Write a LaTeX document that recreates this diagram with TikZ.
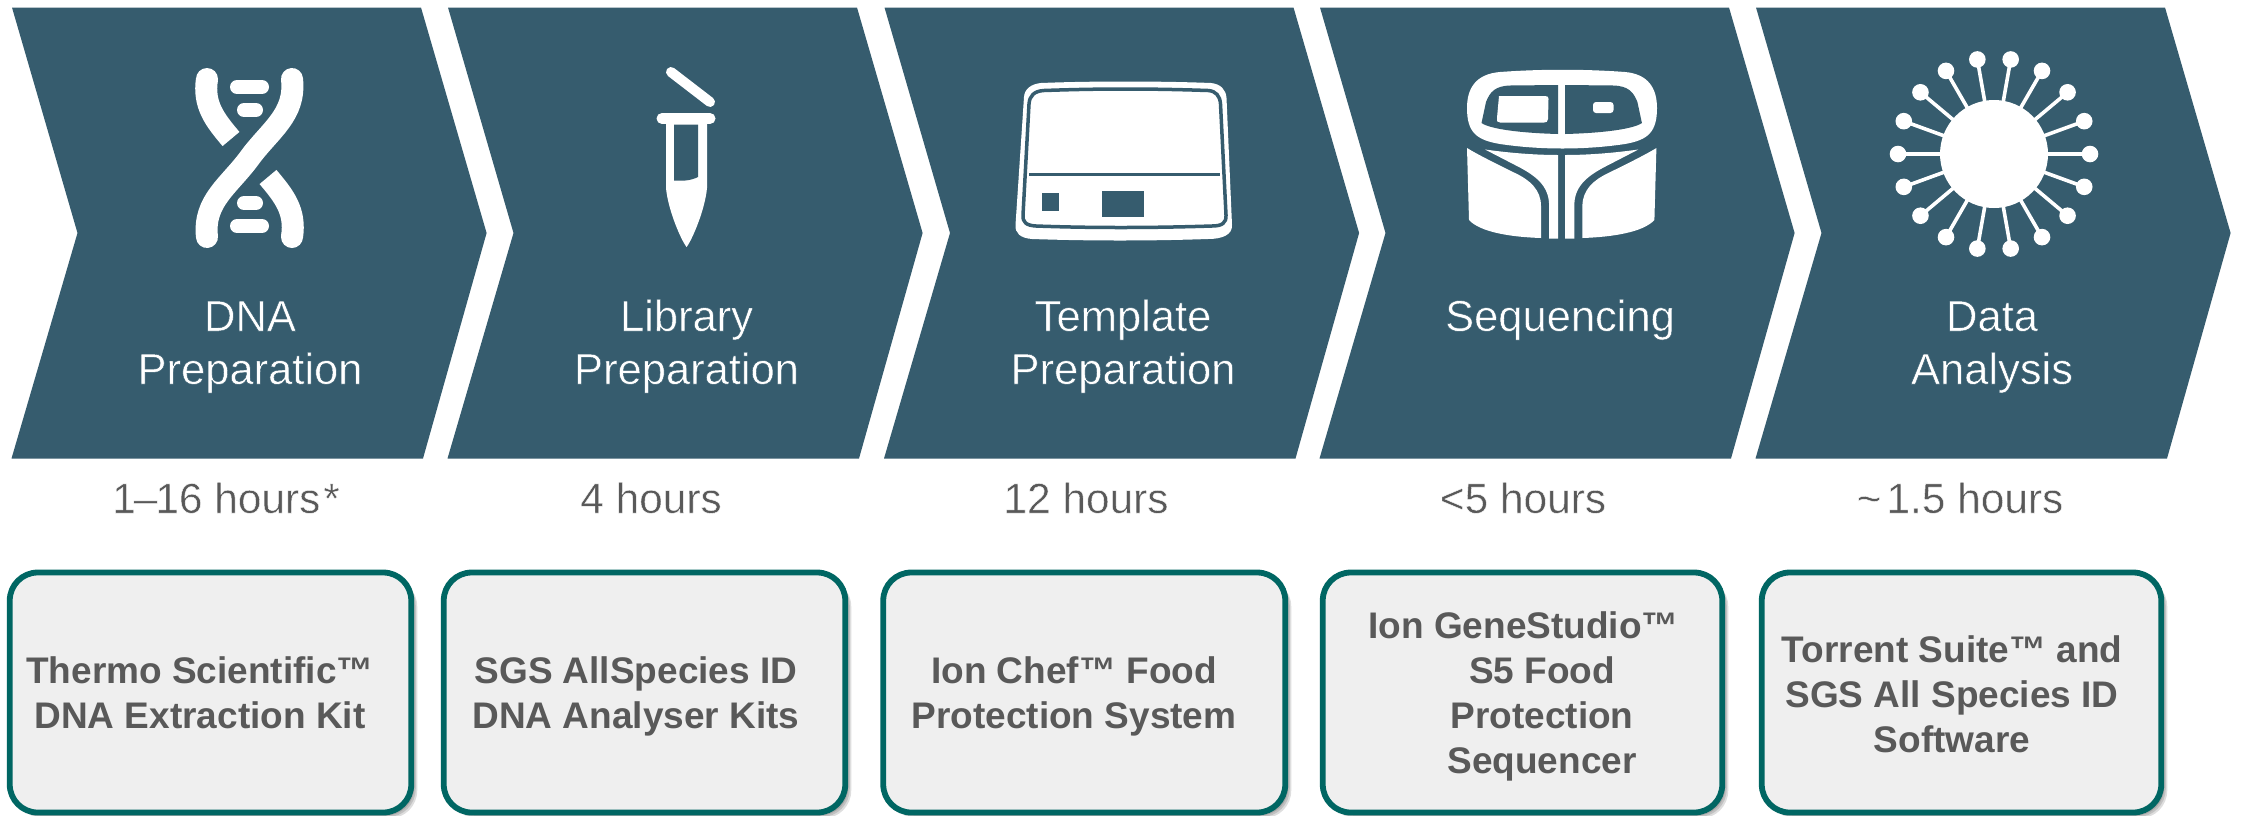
\documentclass[tikz,border=0pt]{standalone}
\usepackage{fontspec}
\setmainfont{Liberation Sans}
\newfontfamily\thinf[FakeBold=1]{Liberation Sans}
\definecolor{chev}{HTML}{365C6E}
\definecolor{rim}{HTML}{006663}
\definecolor{boxfill}{HTML}{EFEFEF}
\definecolor{greytxt}{HTML}{595959}
\definecolor{timetxt}{HTML}{595959}
\newcommand\erodedark{\special{pdf:code 0.212 0.361 0.431 RG}}
\newcommand\erodewhite{\special{pdf:code 1 1 1 RG}}
\tikzset{
  chevshape/.style={fill=chev,draw=none},
  steplabel/.style={text=white,font=\thinf\fontsize{43.5}{53}\selectfont,align=center,inner sep=0pt,anchor=base},
  timelabel/.style={text=timetxt,font=\thinf\fontsize{42.4}{50}\selectfont,inner sep=0pt,anchor=base},
  kitlabel/.style={text=greytxt,font=\bfseries\fontsize{37}{45}\selectfont,align=center,inner sep=0pt,anchor=base},
  kitbox/.style={rounded corners=28pt,draw=rim,line width=5.8pt,fill=boxfill},
  kitshadow/.style={rounded corners=28pt,fill=black,fill opacity=0.13,draw=none},
  icon/.style={fill=white,draw=none},
  strand/.style={draw=white,line width=22pt},
  rung/.style={draw=white,line width=14pt,line cap=round},
  darkline/.style={draw=chev}
}
\begin{document}
\begin{tikzpicture}[x=1pt,y=-1pt]
\useasboundingbox (0,0) rectangle (2241,815);
\fill[white] (0,0) rectangle (2241,815);
% chevrons
\foreach \dx in {0,436,872.5,1308,1744}{
  \fill[chevshape,shift={(\dx,0)}] (12,7.5) -- (421,7.5) -- (486.6,233) -- (423,458.5) -- (11.5,458.5) -- (77.5,233) -- cycle;
}
% DNA icon
\draw[strand,line cap=round] (292,79) .. controls (296,115) and (270,130) .. (249.5,158) .. controls (229,186) and (203,201) .. (207,237);
\draw[strand] (207,79) .. controls (203,105) and (215,120) .. (231,139);
\fill[icon] (207,79) circle (11pt);
\draw[strand] (292,237) .. controls (296,211) and (284,196) .. (268,177);
\fill[icon] (292,237) circle (11pt);
\draw[rung] (237,87) -- (262,87);
\draw[rung] (244,110) -- (256,110);
\draw[rung] (244,203) -- (256,203);
\draw[rung] (237,226) -- (262,226);
% tube icon
\draw[draw=white,line width=10pt,line cap=round] (671,72) -- (710,102);
\draw[draw=white,line width=11pt,line cap=round] (662,118.5) -- (710,118.5);
\fill[icon] (666,122) -- (707,122) -- (707,188) .. controls (705,210) and (692,240) .. (686.6,247) .. controls (681,240) and (668,210) .. (666,188) -- cycle;
\fill[chev] (674,124.5) -- (698,124.5) -- (698,177) .. controls (690,181) and (682,181) .. (674,180.5) -- cycle;
% template instrument icon
\fill[icon] (1041,83) .. controls (1090,81) and (1160,81) .. (1211,83) .. controls (1221,84) and (1226,90) .. (1226.5,98) -- (1232,225) .. controls (1232.5,235) and (1222,239) .. (1208,239) .. controls (1150,241) and (1090,241) .. (1032,239) .. controls (1020,238) and (1015,233) .. (1015.5,225) -- (1024,97) .. controls (1024.5,89) and (1031,84) .. (1041,83) -- cycle;
\draw[darkline,line width=3.5pt] (1044,90.5) .. controls (1100,88.5) and (1150,88.5) .. (1208,90.5) .. controls (1216,91) and (1220,96) .. (1220.5,104) -- (1226,215) .. controls (1226.5,223) and (1222,226) .. (1212,226) .. controls (1150,228) and (1090,228) .. (1036,226) .. controls (1026,225.5) and (1022.5,222) .. (1023,215) -- (1029,104) .. controls (1029.5,96) and (1034,91) .. (1044,90.5) -- cycle;
\draw[darkline,line width=2.2pt] (1029,174.5) -- (1220,174.5);
\fill[chev] (1042,193) rectangle (1059,211);
\fill[chev] (1102,191) rectangle (1144,217);
% sequencer icon
\fill[icon] (1500,72) .. controls (1540,69) and (1585,69) .. (1625,72) .. controls (1648,74) and (1657,88) .. (1657,108) .. controls (1657,132) and (1648,140) .. (1625,144) .. controls (1585,150) and (1540,150) .. (1500,144) .. controls (1476,140) and (1467,132) .. (1467,108) .. controls (1467,88) and (1476,74) .. (1500,72) -- cycle;
\foreach \sx/\x in {1/0,-1/3123.4}{
  \begin{scope}[shift={(\x,0)},xscale=\sx]
    \fill[chev] (1558.2,85) -- (1510,85.5) .. controls (1495,86) and (1490,92) .. (1486,102) -- (1481.5,123) .. controls (1490,129) and (1520,133) .. (1558.2,134) -- cycle;
    % large lower panel
    \fill[icon] (1467,148) .. controls (1480,156) and (1505,168) .. (1515,173) .. controls (1530,180) and (1541,190) .. (1541,206) -- (1541,238) .. controls (1510,237) and (1480,232) .. (1469,220) -- cycle;
    % inner stem
    \fill[icon] (1485,149.5) .. controls (1510,153) and (1535,155) .. (1558.2,155) -- (1558.2,238.5) -- (1549,238.5) -- (1549,203) .. controls (1548,185) and (1535,175) .. (1515,165) -- cycle;
  \end{scope}
}
\fill[icon] (1499,96) -- (1545,96) .. controls (1548,96) and (1548.5,97) .. (1548.5,99) -- (1548,119) .. controls (1548,122) and (1546,122.5) .. (1544,122.5) -- (1500,122.5) .. controls (1497,122.5) and (1496.5,121) .. (1497,118) -- (1499,96) -- cycle;
\fill[icon,rounded corners=3pt] (1593,102) rectangle (1613.5,113);
% virus icon
\fill[icon] (1994,154) circle (54pt);
\foreach \a in {0,20,...,340}{
  \draw[draw=white,line width=3.6pt] (1994,154) ++(\a:50pt) -- ++(\a:45pt);
  \fill[icon] (1994,154) ++(\a:96pt) circle (8.3pt);
}
% step labels
\node[steplabel] (s1) at (250,384) {\erodedark DNA\\Preparation};
\node[steplabel] (s2) at (686.5,384) {\erodedark Library\\Preparation};
\node[steplabel] (s3) at (1123,384) {\erodedark Template\\Preparation};
\node[steplabel] (s4) at (1560,331) {\erodedark Sequencing};
\node[steplabel] (s5) at (1992,384) {\erodedark Data\\Analysis};
% durations
\node[timelabel,anchor=base west] (t1) at (112,513) {\erodewhite 1\kern-2pt–\kern-2pt16 hours\kern3pt*};
\node[timelabel] (t2) at (651,513) {\erodewhite 4 hours};
\node[timelabel] (t3) at (1086,513) {\erodewhite 12 hours};
\node[timelabel] (t4) at (1523,513) {\erodewhite <5 hours};
\node[timelabel] (t5) at (1960,513) {\erodewhite \char"7E\kern5pt1.5 hours};
% kit boxes
\foreach \xa/\xb in {9.75/411.25,443.75/845.25,883.25/1285.25,1322.75/1722.25,1761.75/2161.25}{
  \foreach \off in {1.5,3,4.5,6}{
    \fill[kitshadow] (\xa+\off,572.5+\off) rectangle (\xb+\off,812.5+\off);
  }
  \draw[kitbox] (\xa,572.5) rectangle (\xb,812.5);
}
\node[kitlabel] (k1) at (200,728) {Thermo Scientific™\\DNA Extraction Kit};
\node[kitlabel] (k2) at (636,728) {SGS AllSpecies ID\\DNA Analyser Kits};
\node[kitlabel] (k3) at (1074,728) {Ion Chef™ Food\\Protection System};
\node[kitlabel] (k4) at (1542,773) {Ion GeneStudio™\hspace*{37pt}\\S5 Food\\Protection\\Sequencer};
\node[kitlabel] (k5) at (1952,752) {Torrent Suite™ and\\SGS All Species ID\\Software};
\end{tikzpicture}
\end{document}
